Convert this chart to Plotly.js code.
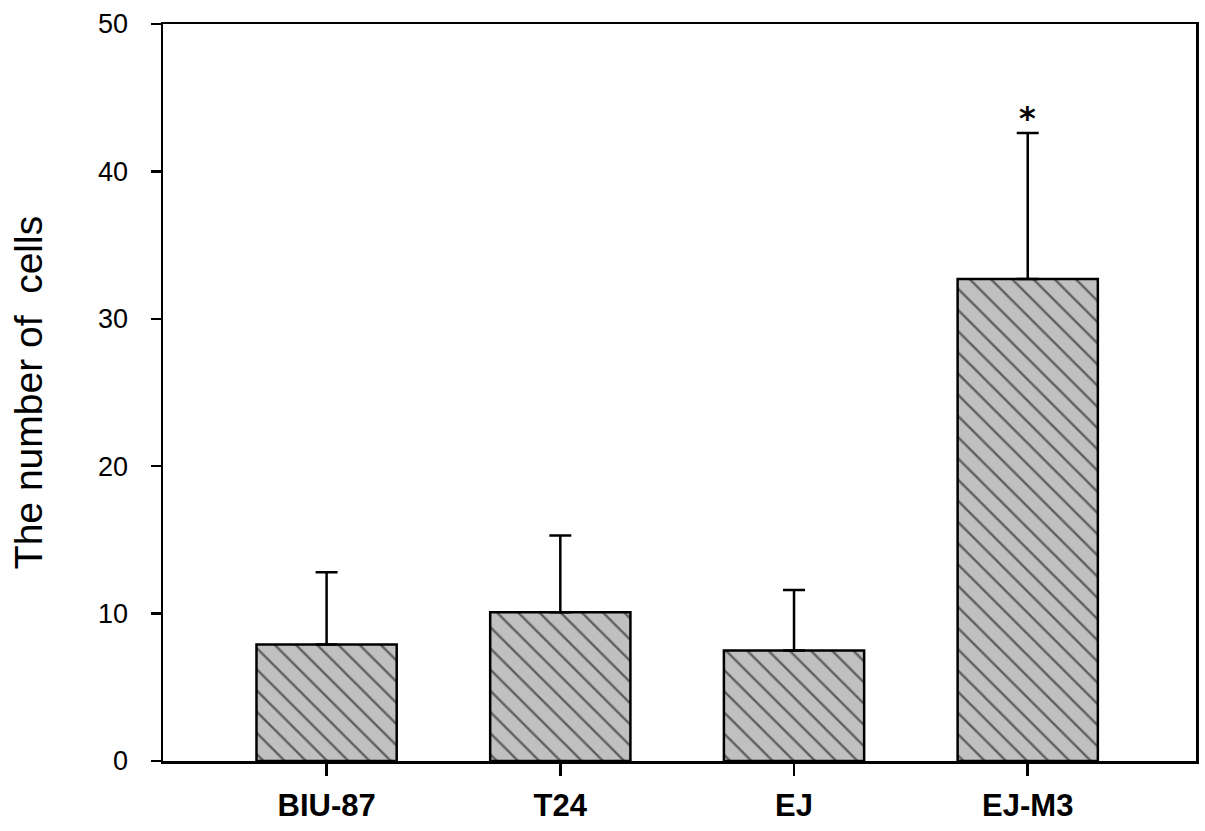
<!DOCTYPE html>
<html>
<head>
<meta charset="utf-8">
<script src="https://cdn.plot.ly/plotly-3.0.1.min.js"></script>
<style>html,body{margin:0;padding:0;background:#fff;}#chart{width:1205px;height:831px;}</style>
</head>
<body>
<div id="chart"></div>
<script>
const categories = ["BIU-87", "T24", "EJ", "EJ-M3"];
const cellCounts = [7.9, 10.1, 7.5, 32.7];
const errorUp = [4.9, 5.2, 4.1, 9.9];
const significance = ["", "", "", "*"];

const trace = {
  type: "bar",
  x: categories,
  y: cellCounts,
  width: 0.6,
  marker: {
    color: "#c0c0c0",
    line: {color: "#000", width: 2.5},
    pattern: {shape: "\\", fgcolor: "#000", bgcolor: "#c0c0c0", size: 15, solidity: 0.16, fillmode: "overlay"}
  },
  error_y: {type: "data", symmetric: false, array: errorUp, arrayminus: [0,0,0,0], color: "#000", thickness: 2.5, width: 11},
  hoverinfo: "none"
};

const annotations = categories.map((c, i) => significance[i] ? {
  x: c, y: cellCounts[i] + errorUp[i], yref: "y", xref: "x",
  text: significance[i], showarrow: false, yanchor: "bottom", yshift: -6,
  font: {family: "DejaVu Sans, Arial, sans-serif", size: 32, color: "#000", weight: "bold"}
} : null).filter(a => a);

const layout = {
  width: 1205, height: 831,
  margin: {l: 163, r: 9, t: 24, b: 70},
  paper_bgcolor: "#fff", plot_bgcolor: "#fff",
  showlegend: false,
  font: {family: "Liberation Sans, Arial, sans-serif", color: "#000"},
  xaxis: {
    type: "category", range: [-0.7, 3.72],
    showline: true, linecolor: "#000", linewidth: 2.5, mirror: true,
    ticks: "outside", ticklen: 12, tickwidth: 2.5, tickcolor: "#000",
    tickfont: {family: "Liberation Sans, Arial, sans-serif", size: 31, color: "#000", weight: "bold"},
    ticklabelstandoff: 3,
    showgrid: false, zeroline: false
  },
  yaxis: {
    range: [0, 50], tickvals: [0, 10, 20, 30, 40, 50],
    showline: true, linecolor: "#000", linewidth: 2.5, mirror: true,
    ticks: "outside", ticklen: 10, tickwidth: 2.5, tickcolor: "#000",
    tickfont: {family: "Liberation Sans Narrow, Liberation Sans, Arial, sans-serif", size: 27, color: "#000"},
    ticklabelstandoff: 17,
    showgrid: false, zeroline: false,
    title: {text: "The number of  cells", standoff: 44,
      font: {family: "Liberation Sans, Arial, sans-serif", size: 39, color: "#000"}}
  },
  annotations: annotations
};

Plotly.newPlot("chart", [trace], layout, {displayModeBar: false, staticPlot: true});
</script>
</body>
</html>
